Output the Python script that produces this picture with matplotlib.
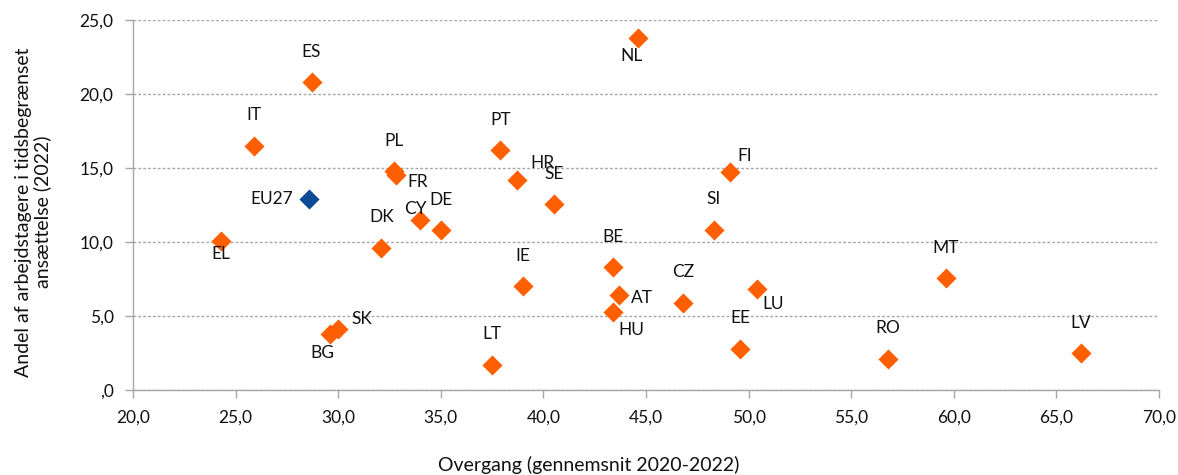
import matplotlib
matplotlib.use("Agg")
import matplotlib.pyplot as plt
from matplotlib.ticker import FuncFormatter, MultipleLocator

# ---- data ----
countries = ["ES", "IT", "PL", "FR", "CY", "DE", "DK", "EL", "PT", "HR", "SE",
             "IE", "SK", "BG", "LT", "NL", "BE", "AT", "HU", "CZ", "SI", "FI",
             "EE", "LU", "RO", "MT", "LV"]
transition = [28.7, 25.9, 32.7, 32.8, 34.0, 35.0, 32.1, 24.3, 37.9, 38.7, 40.5,
              39.0, 30.0, 29.6, 37.5, 44.6, 43.4, 43.7, 43.4, 46.8, 48.3, 49.1,
              49.6, 50.4, 56.8, 59.6, 66.2]
temporary = [20.8, 16.5, 14.8, 14.5, 11.5, 10.8, 9.6, 10.1, 16.2, 14.2, 12.6,
             7.0, 4.1, 3.8, 1.7, 23.8, 8.3, 6.4, 5.3, 5.9, 10.8, 14.7,
             2.8, 6.8, 2.1, 7.6, 2.5]
eu_label = "EU27"
eu_transition = [28.6]
eu_temporary = [12.9]

x_label = "Overgang (gennemsnit 2020-2022)"
y_label = "Andel af arbejdstagere i tidsbegrænset\nansættelse (2022)"

# ---- label placement (pixel offsets from marker) ----
label_offsets = {
    "ES": (0, 30), "IT": (0, 31), "PL": (0, 30), "FR": (22, -7), "CY": (-5, 11),
    "DE": (0, 30), "DK": (0, 31), "EL": (0, -13), "PT": (0, 30), "HR": (26, 17),
    "SE": (0, 30), "IE": (0, 30), "SK": (24, 10), "BG": (-8, -19), "LT": (0, 31),
    "NL": (-6, -18), "BE": (0, 30), "AT": (23, -3), "HU": (18, -18), "CZ": (0, 31),
    "SI": (0, 31), "FI": (15, 16), "EE": (0, 31), "LU": (16, -15), "RO": (0, 31),
    "MT": (0, 30), "LV": (0, 30),
}

orange = "#FF5F00"
blue = "#0A4A96"
font = ["Lato", "DejaVu Sans"]
plt.rcParams["font.family"] = font
fs = 12.5
fs_axis = 14

fig = plt.figure(figsize=(11.78, 4.75), dpi=100)
ax = fig.add_axes([133 / 1178, 85 / 475, (1159 - 133) / 1178, 370 / 475])

ax.scatter(transition, temporary, marker="D", s=105, color=orange, zorder=3,
           linewidths=0)
ax.scatter(eu_transition, eu_temporary, marker="D", s=105, color=blue, zorder=3,
           linewidths=0)

for c, x, y in zip(countries, transition, temporary):
    dx, dy = label_offsets[c]
    ax.annotate(c, (x, y), xytext=(dx, dy), textcoords="offset pixels",
                ha="center", va="center", fontsize=fs, color="#111111", zorder=4)
ax.annotate(eu_label, (eu_transition[0], eu_temporary[0]), xytext=(-16, 0),
            textcoords="offset pixels", ha="right", va="center", fontsize=fs,
            color="#111111", zorder=4)

ax.set_xlim(20, 70)
ax.set_ylim(0, 25)
ax.xaxis.set_major_locator(MultipleLocator(5))
ax.yaxis.set_major_locator(MultipleLocator(5))


def fmt(v, pos):
    s = f"{v:.1f}".replace(".", ",")
    if abs(v) < 1e-9:
        s = ",0"
    return s


ax.xaxis.set_major_formatter(FuncFormatter(fmt))
ax.yaxis.set_major_formatter(FuncFormatter(fmt))

ax.grid(axis="y", color="#A6A6A6", linestyle=(0, (2, 1.5)), linewidth=1.0, zorder=0)
ax.set_axisbelow(True)
for s in ["top", "right"]:
    ax.spines[s].set_visible(False)
for s in ["left", "bottom"]:
    ax.spines[s].set_color("#A6A6A6")
    ax.spines[s].set_linewidth(1.0)
ax.tick_params(axis="both", colors="#A6A6A6", labelcolor="#111111",
               labelsize=fs, length=6, width=1)
ax.tick_params(axis="x", pad=8)
ax.tick_params(axis="y", pad=8)

fig.text(589 / 1178, 1 - 465 / 475, x_label, ha="center", va="center",
         fontsize=fs_axis, color="#111111")
fig.text(33 / 1178, 1 - 212 / 475, y_label, ha="center", va="center",
         rotation=90, fontsize=fs_axis, color="#111111", multialignment="center",
         linespacing=1.1)

fig.savefig("out.png", dpi=100)
